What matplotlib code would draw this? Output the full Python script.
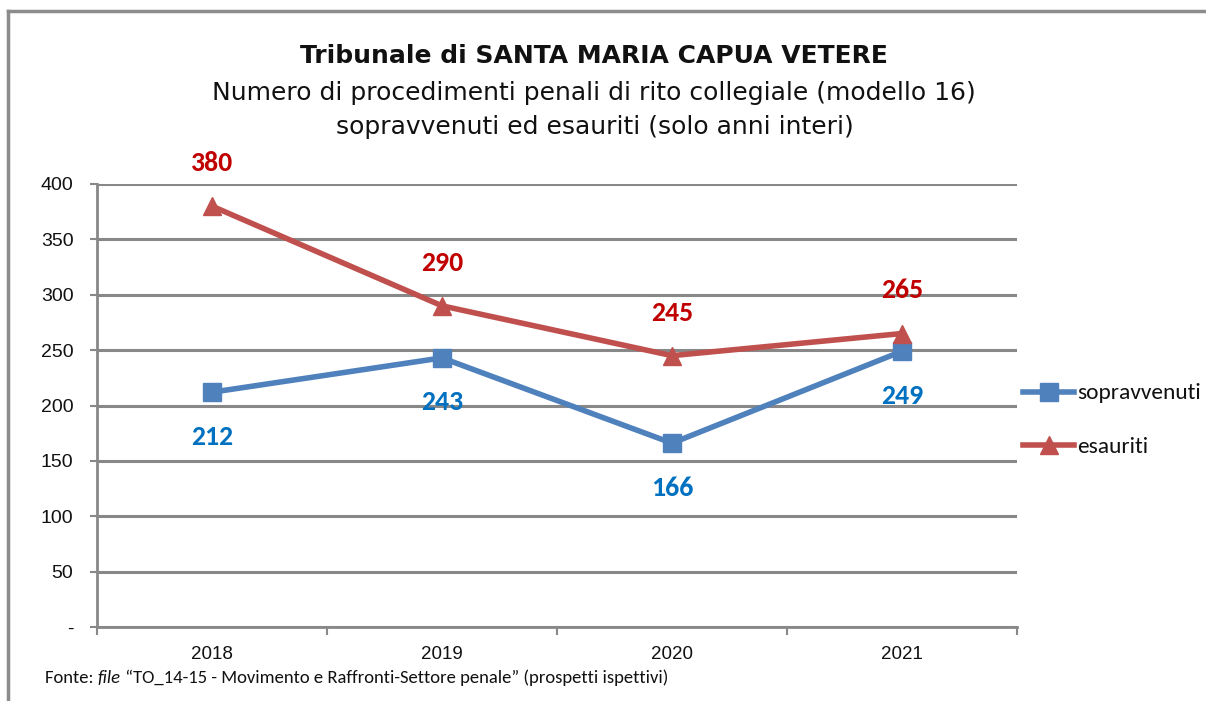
import matplotlib
matplotlib.use("Agg")
import matplotlib.pyplot as plt
from matplotlib.lines import Line2D

years = ["2018", "2019", "2020", "2021"]
sopravvenuti = [212, 243, 166, 249]
esauriti = [380, 290, 245, 265]
yticks = [0, 50, 100, 150, 200, 250, 300, 350, 400]
ytick_labels = ["-", "50", "100", "150", "200", "250", "300", "350", "400"]

title = "Tribunale di SANTA MARIA CAPUA VETERE"
subtitle1 = "Numero di procedimenti penali di rito collegiale (modello 16)"
subtitle2 = "sopravvenuti ed esauriti (solo anni interi)"
footer_a = "Fonte: "
footer_b = "file"
footer_c = " \u201cTO_14-15 - Movimento e Raffronti-Settore penale\u201d (prospetti ispettivi)"

plt.rcParams["font.family"] = ["Carlito", "DejaVu Sans"]

W, H = 1206, 701
fig = plt.figure(figsize=(W / 100, H / 100), dpi=100)
renderer = fig.canvas.get_renderer()


def fit(t, target):
    for _ in range(3):
        w = t.get_window_extent(renderer).width
        t.set_fontsize(t.get_fontsize() * target / w)


# outer frame
fig.add_artist(Line2D([8 / W, 1.0], [1 - 11 / H, 1 - 11 / H], color="#8c8c8c", lw=2.5, transform=fig.transFigure))
fig.add_artist(Line2D([8 / W, 8 / W], [0, 1 - 11 / H], color="#8c8c8c", lw=2.5, transform=fig.transFigure))

ax = fig.add_axes([97 / W, 1 - 627 / H, (1017 - 97) / W, (627 - 184) / H])
x = list(range(len(years)))
ax.set_xlim(-0.5, len(years) - 0.5)
ax.set_ylim(0, 400)

for s in ["top", "right"]:
    ax.spines[s].set_visible(False)
for s in ["left", "bottom"]:
    ax.spines[s].set_color("#888888")
    ax.spines[s].set_linewidth(2)

ax.set_yticks(yticks)
ax.set_yticklabels(ytick_labels, family=["Liberation Sans", "DejaVu Sans"])
ax.yaxis.grid(True, color="#888888", linewidth=2.2)
ax.set_axisbelow(True)
ax.tick_params(axis="y", length=5, width=1.5, color="#888888", labelsize=14, pad=12, labelcolor="#111111")

ax.set_xticks(x)
ax.set_xticklabels(years, fontsize=13.5, color="#111111", family=["Liberation Sans", "DejaVu Sans"])
ax.tick_params(axis="x", length=0, pad=14)
ax.set_xticks([i - 0.5 for i in range(len(years) + 1)], minor=True)
ax.tick_params(axis="x", which="minor", length=6, width=1.5, color="#888888")

blue = "#4F81BD"
red = "#C0504D"
ax.plot(x, sopravvenuti, color=blue, lw=4, marker="s", markersize=13, label="sopravvenuti", clip_on=False)
ax.plot(x, esauriti, color=red, lw=4, marker="^", markersize=13, label="esauriti", clip_on=False)

for i, v in enumerate(esauriti):
    ax.annotate(str(v), (i, v), xytext=(0, 31), textcoords="offset points", ha="center", va="center",
                fontsize=20, fontweight="bold", color="#C00000")
for i, v in enumerate(sopravvenuti):
    ax.annotate(str(v), (i, v), xytext=(0, -32), textcoords="offset points", ha="center", va="center",
                fontsize=20, fontweight="bold", color="#0070C0")

leg = fig.legend(loc="center left", bbox_to_anchor=(1003 / W, 1 - 420 / H), frameon=False,
                 fontsize=16, handlelength=2.3, labelspacing=1.5, handletextpad=0.15)
for t in leg.get_texts():
    t.set_color("#111111")
fit(leg.get_texts()[0], 124)
leg.get_texts()[1].set_fontsize(leg.get_texts()[0].get_fontsize())

tt = fig.text(594 / W, 1 - 56 / H, title, ha="center", va="center", fontsize=18, fontweight="bold",
              color="#111111", family=["DejaVu Sans"])
fit(tt, 588)
s1 = fig.text(594 / W, 1 - 93 / H, subtitle1, ha="center", va="center", fontsize=17, color="#111111",
              family=["DejaVu Sans"])
fit(s1, 762)
s2 = fig.text(595 / W, 1 - 127 / H, subtitle2, ha="center", va="center", fontsize=s1.get_fontsize(),
              color="#111111", family=["DejaVu Sans"])

fy = 1 - 678 / H
fs = 13.4
t1 = fig.text(45 / W, fy, footer_a, ha="left", va="center", fontsize=fs, color="#111111")
bb = t1.get_window_extent(renderer)
t2 = fig.text(bb.x1 / W, fy, footer_b, ha="left", va="center", fontsize=fs, style="italic", color="#111111")
bb2 = t2.get_window_extent(renderer)
t3 = fig.text(bb2.x1 / W, fy, footer_c, ha="left", va="center", fontsize=fs, color="#111111")

fig.savefig("out.png", dpi=100)
